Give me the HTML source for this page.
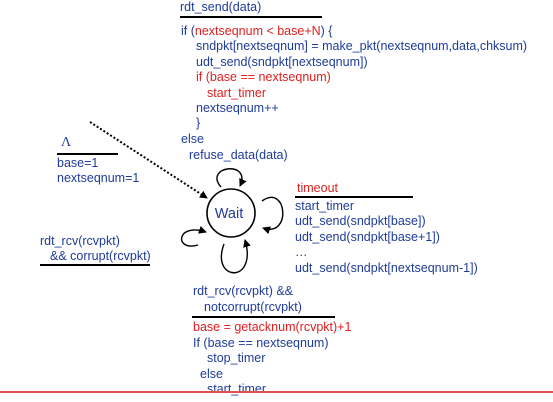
<!DOCTYPE html>
<html><head><meta charset="utf-8"><style>
body{margin:0;width:553px;height:402px;background:#fff;position:relative;overflow:hidden;font-family:"Liberation Sans",sans-serif;font-size:12.5px;color:#1f3c9a}
.t{position:absolute;white-space:nowrap;line-height:15px}
.r{color:#e02020}
.l{position:absolute;height:1.5px;background:#000}
</style></head><body>
<div class="t" style="left:180px;top:0px">rdt_send(data)</div>
<div class="l" style="left:180px;top:16px;width:142px"></div>
<div class="t" style="left:181px;top:24px">if (<span class="r">nextseqnum &lt; base+N</span>) {</div>
<div class="t" style="left:196px;top:39px">sndpkt[nextseqnum] = make_pkt(nextseqnum,data,chksum)</div>
<div class="t" style="left:196px;top:55px">udt_send(sndpkt[nextseqnum])</div>
<div class="t r" style="left:196px;top:70px">if (base == nextseqnum)</div>
<div class="t r" style="left:207px;top:86px">start_timer</div>
<div class="t" style="left:196px;top:101px">nextseqnum++</div>
<div class="t" style="left:196px;top:116px">}</div>
<div class="t" style="left:181px;top:132px">else</div>
<div class="t" style="left:189px;top:148px">refuse_data(data)</div>
<div class="t" style="left:61px;top:135px;font-family:'Liberation Serif',serif;font-size:14px">Λ</div>
<div class="l" style="left:57px;top:153px;width:61px"></div>
<div class="t" style="left:57px;top:156px">base=1</div>
<div class="t" style="left:57px;top:171px">nextseqnum=1</div>
<div class="t" style="left:40px;top:234px">rdt_rcv(rcvpkt)</div>
<div class="t" style="left:50px;top:249px">&amp;&amp; corrupt(rcvpkt)</div>
<div class="l" style="left:40px;top:264px;width:110px"></div>
<div class="t r" style="left:297px;top:181px">timeout</div>
<div class="l" style="left:295px;top:196px;width:118px"></div>
<div class="t" style="left:295px;top:199px">start_timer</div>
<div class="t" style="left:295px;top:214px">udt_send(sndpkt[base])</div>
<div class="t" style="left:295px;top:230px">udt_send(sndpkt[base+1])</div>
<div class="t" style="left:295px;top:245px">…</div>
<div class="t" style="left:295px;top:261px">udt_send(sndpkt[nextseqnum-1])</div>
<div class="t" style="left:193px;top:284px">rdt_rcv(rcvpkt) &amp;&amp;</div>
<div class="t" style="left:204px;top:300px">notcorrupt(rcvpkt)</div>
<div class="l" style="left:192px;top:316px;width:143px"></div>
<div class="t r" style="left:193px;top:320px">base = getacknum(rcvpkt)+1</div>
<div class="t" style="left:193px;top:336px">If (base == nextseqnum)</div>
<div class="t" style="left:207px;top:351px">stop_timer</div>
<div class="t" style="left:200px;top:367px">else</div>
<div class="t" style="left:207px;top:382px">start_timer</div>
<div style="position:absolute;left:0;top:391px;width:553px;height:1.5px;background:#e05050"></div>
<svg width="553" height="402" style="position:absolute;left:0;top:0">
<defs><marker id="a" markerWidth="8" markerHeight="8" refX="7" refY="4" orient="auto" markerUnits="userSpaceOnUse"><path d="M0,0 L8,4 L0,8 z" fill="#000"/></marker></defs>
<circle cx="231" cy="213" r="24" fill="none" stroke="#000" stroke-width="1.6"/>
<text x="229" y="218" text-anchor="middle" font-family="Liberation Sans" font-size="14.5" fill="#1f3c9a">Wait</text>
<line x1="90" y1="122" x2="207" y2="198" stroke="#000" stroke-width="2" stroke-dasharray="2,2" marker-end="url(#a)"/>
<path d="M221,187 C203,166 252,160 240,186" fill="none" stroke="#000" stroke-width="1.4" marker-end="url(#a)"/>
<path d="M262,201 C287,183 292,238 263,228" fill="none" stroke="#000" stroke-width="1.4" marker-end="url(#a)"/>
<path d="M224,244 C210,282 258,284 245,240" fill="none" stroke="#000" stroke-width="1.4" marker-end="url(#a)"/>
<path d="M198,245 C174,252 176,222 206,232" fill="none" stroke="#000" stroke-width="1.4" marker-end="url(#a)"/>
</svg>
</body></html>
